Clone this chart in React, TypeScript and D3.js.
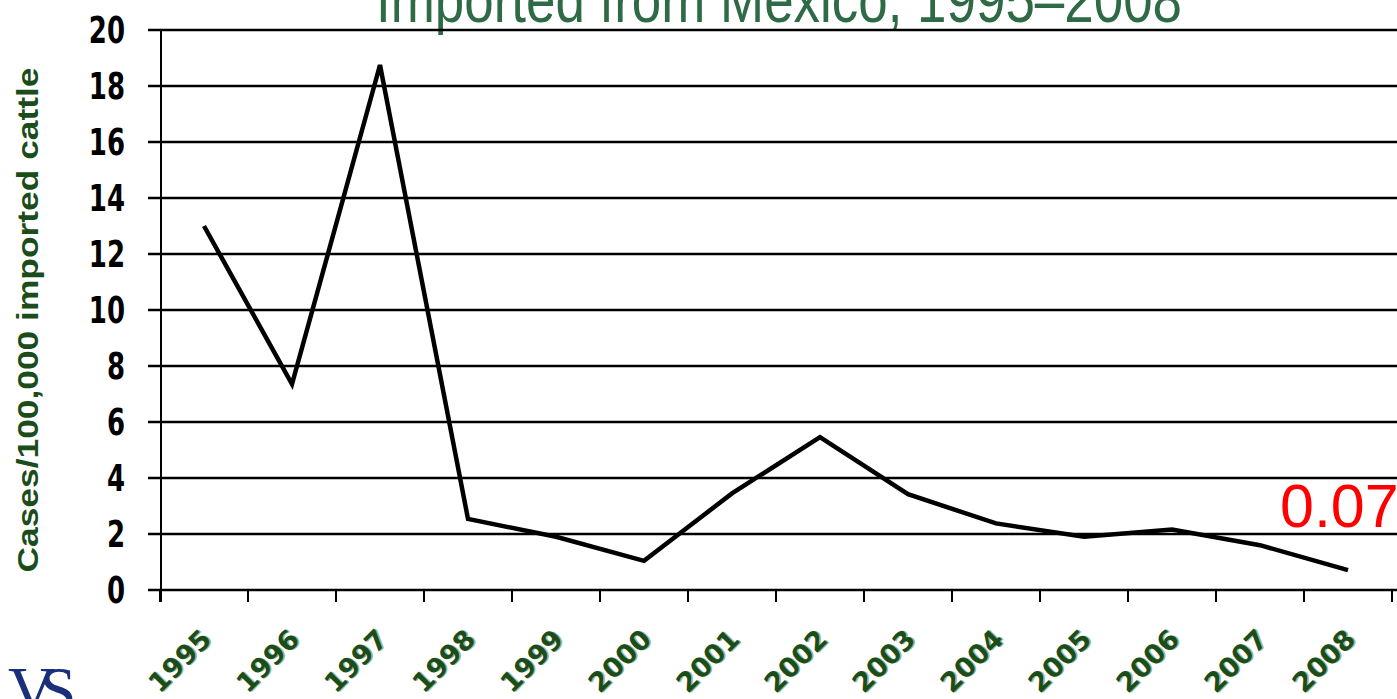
import React from "react";
import * as d3 from "d3";

const years = ["1995","1996","1997","1998","1999","2000","2001","2002","2003","2004","2005","2006","2007","2008"];
const cases = [13.0, 7.35, 18.75, 2.54, 1.9, 1.04, 3.45, 5.46, 3.42, 2.38, 1.9, 2.16, 1.6, 0.71];
const yTicks = [0, 2, 4, 6, 8, 10, 12, 14, 16, 18, 20];
const titleText = "Imported from Mexico, 1995\u20132008";
const yTitle = "Cases/100,000 imported cattle";
const annotation = "0.07";

const W = 1397, H = 699;
const left = 160, right = 1392, top = 30, bottom = 590;

export default function App() {
  const x = d3.scaleBand<string>().domain(years).range([left, right]);
  const y = d3.scaleLinear().domain([0, 20]).range([bottom, top]);
  const line = d3.line<number>()
    .x((_, i) => (x(years[i]) as number) + x.bandwidth() / 2)
    .y((d) => y(d));
  const boundaries = years.map((yr) => x(yr) as number).concat([right]);
  const labelGreen = "#1b4d1b";

  return (
    <svg width={W} height={H} style={{ position: "absolute", left: 0, top: 0, background: "#fff" }}>
      {/* title (partly cut off at top) */}
      <g transform="translate(779,22) scale(1,1.2)">
        <text textAnchor="middle" fontFamily="Liberation Sans, Arial, sans-serif"
          fontSize={54} fill="#2d6a45" textLength={806} lengthAdjust="spacingAndGlyphs">{titleText}</text>
      </g>

      {/* gridlines */}
      {yTicks.map((t) => (
        <line key={t} x1={148} x2={W} y1={y(t)} y2={y(t)} stroke="#000" strokeWidth={2.5} />
      ))}
      {/* y axis line */}
      <line x1={left + 1} x2={left + 1} y1={top} y2={bottom + 12} stroke="#000" strokeWidth={2} />
      {/* x ticks */}
      {boundaries.map((b, i) => (
        <line key={i} x1={b} x2={b} y1={bottom} y2={bottom + 12} stroke="#000" strokeWidth={2} />
      ))}

      {/* y tick labels */}
      {yTicks.map((t) => (
        <g key={t} transform={`translate(125,${y(t)}) scale(1,1.4)`}>
          <text textAnchor="end" dy="0.36em" fontFamily="DejaVu Sans, Verdana, sans-serif"
            fontWeight="bold" fontSize={26} fill="#000">{t}</text>
        </g>
      ))}

      {/* y axis title */}
      <text transform={`translate(38,320) rotate(-90)`} textAnchor="middle"
        fontFamily="Liberation Sans, Arial, sans-serif" fontWeight="bold" fontSize={29}
        fill={labelGreen} textLength={505} lengthAdjust="spacingAndGlyphs">{yTitle}</text>

      {/* x tick labels */}
      {years.map((yr) => {
        const cx = (x(yr) as number) + x.bandwidth() / 2 + 9;
        return (
          <g key={yr} transform={`translate(${cx},641) rotate(-45)`}>
            <text x={1.2} y={1.2} textAnchor="end" fontFamily="DejaVu Sans, Verdana, sans-serif"
              fontWeight="bold" fontSize={27} fill="#9ab89a">{yr}</text>
            <text textAnchor="end" fontFamily="DejaVu Sans, Verdana, sans-serif"
              fontWeight="bold" fontSize={27} fill={labelGreen}>{yr}</text>
          </g>
        );
      })}

      {/* data line */}
      <path d={line(cases) || ""} fill="none" stroke="#000" strokeWidth={4.5} strokeLinejoin="miter" />

      {/* annotation */}
      <text x={1280} y={527} fontFamily="Liberation Sans, Arial, sans-serif" fontSize={61} fill="#ff0000">{annotation}</text>

      {/* logo */}
      <text x={8} y={712} fontFamily="Liberation Serif, Times New Roman, serif" fontSize={66}
        fill="#1a2f7a" letterSpacing={-16}>VS</text>
    </svg>
  );
}
